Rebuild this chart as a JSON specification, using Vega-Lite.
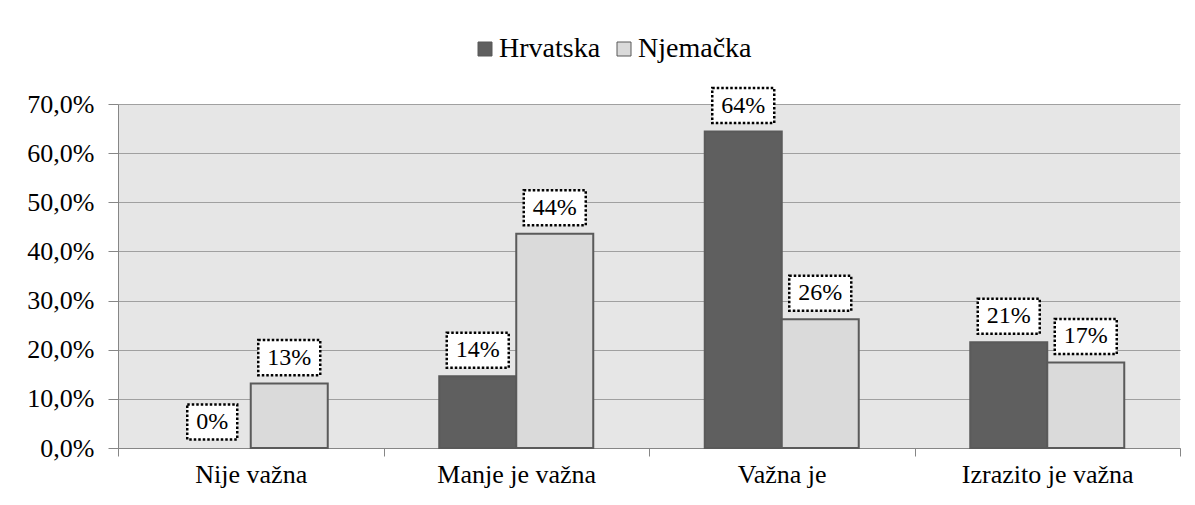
{
  "$schema": "https://vega.github.io/schema/vega-lite/v6.json",
  "width": 1062,
  "height": 344,
  "autosize": {"type": "none"},
  "padding": {"left": 118, "top": 104, "right": 15, "bottom": 57},
  "background": "white",
  "config": {
    "font": "Liberation Serif",
    "view": {"fill": "#e6e6e6", "stroke": null},
    "axis": {"labelFont": "Liberation Serif"},
    "legend": {"labelFont": "Liberation Serif"},
    "text": {"font": "Liberation Serif"}
  },
  "data": {
    "values": [
      {"cat": "Nije važna", "country": "Hrvatska", "value": 0, "label": "0%"},
      {"cat": "Nije važna", "country": "Njemačka", "value": 13.1, "label": "13%"},
      {"cat": "Manje je važna", "country": "Hrvatska", "value": 14.6, "label": "14%"},
      {"cat": "Manje je važna", "country": "Njemačka", "value": 43.6, "label": "44%"},
      {"cat": "Važna je", "country": "Hrvatska", "value": 64.4, "label": "64%"},
      {"cat": "Važna je", "country": "Njemačka", "value": 26.2, "label": "26%"},
      {"cat": "Izrazito je važna", "country": "Hrvatska", "value": 21.5, "label": "21%"},
      {"cat": "Izrazito je važna", "country": "Njemačka", "value": 17.4, "label": "17%"}
    ]
  },
  "encoding": {
    "x": {
      "field": "cat",
      "type": "nominal",
      "sort": ["Nije važna", "Manje je važna", "Važna je", "Izrazito je važna"],
      "scale": {"paddingInner": 0, "paddingOuter": 0},
      "axis": {
        "title": null,
        "labelAngle": 0,
        "tickBand": "extent",
        "tickSize": 8,
        "tickColor": "#868686",
        "domainColor": "#868686",
        "labelFont": "Liberation Serif",
        "labelFontSize": 26,
        "labelColor": "#000000",
        "labelPadding": 5,
        "grid": false
      }
    },
    "xOffset": {
      "field": "country",
      "type": "nominal",
      "sort": ["Hrvatska", "Njemačka"],
      "scale": {"paddingInner": 0, "paddingOuter": 0.724}
    },
    "y": {
      "field": "value",
      "type": "quantitative",
      "scale": {"domain": [0, 70], "nice": false},
      "axis": {
        "title": null,
        "values": [0, 10, 20, 30, 40, 50, 60, 70],
        "labelExpr": "replace(format(datum.value, '.1f'), '.', ',') + '%'",
        "gridColor": "#a0a0a0",
        "tickSize": 10,
        "tickColor": "#868686",
        "domainColor": "#868686",
        "labelFont": "Liberation Serif",
        "labelFontSize": 26,
        "labelPadding": 14,
        "labelColor": "#000000"
      }
    }
  },
  "layer": [
    {
      "mark": {"type": "bar", "stroke": "#5a5a5a", "strokeWidth": 2},
      "encoding": {
        "strokeOpacity": {"condition": {"test": "datum.value == 0", "value": 0}, "value": 1},
        "fill": {
          "field": "country",
          "type": "nominal",
          "scale": {"domain": ["Hrvatska", "Njemačka"], "range": ["#5f5f5f", "#dadada"]},
          "legend": {
            "orient": "none",
            "legendX": 353,
            "legendY": -69,
            "direction": "horizontal",
            "title": null,
            "symbolType": "square",
            "symbolSize": 196,
            "labelFont": "Liberation Serif",
            "labelFontSize": 28,
            "labelColor": "#000000",
            "labelOffset": 0,
            "columnPadding": 9,
            "symbolStrokeColor": "#595959",
            "symbolStrokeWidth": 1,
            "padding": 0
          }
        }
      }
    },
    {
      "mark": {
        "type": "point",
        "fill": "white",
        "fillOpacity": 1,
        "opacity": 1,
        "stroke": "black",
        "strokeWidth": 2.5,
        "strokeDash": [2.5, 2],
        "yOffset": -26
      },
      "encoding": {
        "shape": {
          "condition": {"test": "length(datum.label) < 3", "value": "M-1,-0.7H1V0.7H-1Z"},
          "value": "M-1,-0.565H1V0.565H-1Z"
        },
        "size": {
          "condition": {"test": "length(datum.label) < 3", "value": 2500},
          "value": 3844
        }
      }
    },
    {
      "mark": {
        "type": "text",
        "yOffset": -26,
        "baseline": "middle",
        "font": "Liberation Serif",
        "fontSize": 24,
        "color": "#000000"
      },
      "encoding": {"text": {"field": "label"}}
    }
  ]
}
